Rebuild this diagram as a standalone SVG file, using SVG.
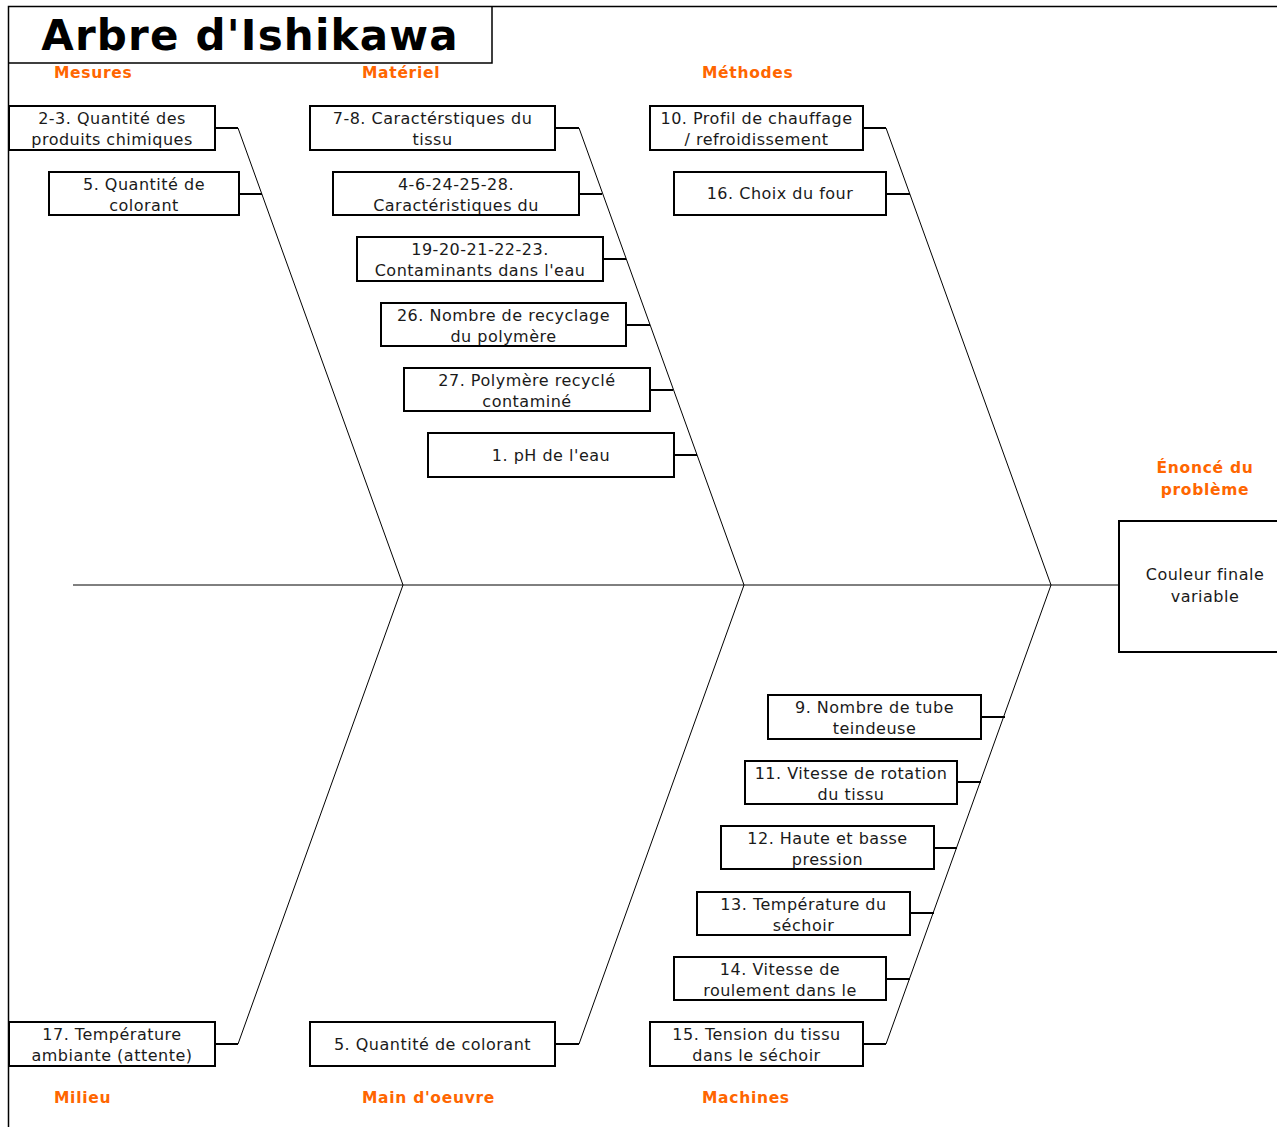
<svg xmlns="http://www.w3.org/2000/svg" width="1277" height="1127" viewBox="0 0 1277 1127">
<style>
.bg{fill:#fff}
.box{fill:#fff;stroke:#000;stroke-width:2}
.frame{fill:none;stroke:#000;stroke-width:1.5}
.t{font-family:"DejaVu Sans",Verdana,sans-serif;font-size:16px;letter-spacing:0.5px;text-anchor:middle;fill:#1a1a1a}
.title{font-family:"DejaVu Sans",Verdana,sans-serif;font-size:42px;font-weight:bold;letter-spacing:1.2px;text-anchor:middle;fill:#000}
.cat{font-family:"DejaVu Sans",Verdana,sans-serif;font-size:15.5px;font-weight:bold;letter-spacing:0.7px;fill:#ff6600}
.catc{text-anchor:middle}
.bone{fill:none;stroke:#000;stroke-width:1}
.stub{fill:none;stroke:#000;stroke-width:2}
</style>
<rect class="bg" x="0" y="0" width="1277" height="1127"/>
<g id="frame">
<path class="frame" d="M8.5,1127 V6.5 H1277 M8.5,63 H492 V6.5"/>
<text class="title" x="250" y="50">Arbre d'Ishikawa</text>
</g>
<g id="categories">
<text class="cat" x="54" y="78">Mesures</text>
<text class="cat" x="362" y="78">Matériel</text>
<text class="cat" x="702" y="78">Méthodes</text>
<text class="cat" x="54" y="1103">Milieu</text>
<text class="cat" x="362" y="1103">Main d'oeuvre</text>
<text class="cat" x="702" y="1103">Machines</text>
<text class="cat catc" x="1205" y="473">Énoncé du</text>
<text class="cat catc" x="1205" y="495">problème</text>
</g>
<g id="connectors">
<path class="bone" d="M73,585 H1119"/>
<path class="bone" d="M238,128 L403,585 L238,1044"/>
<path class="bone" d="M579,128 L744,585 L579,1044"/>
<path class="bone" d="M886,128 L1051,585 L886,1044"/>
<path class="stub" d="M215,128 H238 M239,194 H262 M555,128 H579 M579,194 H602 M603,259 H626 M626,325 H650 M650,390 H673 M674,455 H697 M863,128 H886 M886,194 H910 M981,717 H1005 M957,782 H981 M934,848 H957 M910,913 H934 M886,979 H910 M863,1044 H886 M215,1044 H238 M555,1044 H579"/>
</g>
<g id="m1"><rect class="box" x="9" y="106" width="206" height="44"/><text class="t" x="112" y="124">2-3. Quantité des</text><text class="t" x="112" y="145">produits chimiques</text></g>
<g id="m2"><rect class="box" x="49" y="172" width="190" height="43"/><text class="t" x="144" y="190">5. Quantité de</text><text class="t" x="144" y="211">colorant</text></g>
<g id="a1"><rect class="box" x="310" y="106" width="245" height="44"/><text class="t" x="432.5" y="124">7-8. Caractérstiques du</text><text class="t" x="432.5" y="145">tissu</text></g>
<g id="a2"><rect class="box" x="333" y="172" width="246" height="43"/><text class="t" x="456" y="190">4-6-24-25-28.</text><text class="t" x="456" y="211">Caractéristiques du</text></g>
<g id="a3"><rect class="box" x="357" y="237" width="246" height="44"/><text class="t" x="480" y="255">19-20-21-22-23.</text><text class="t" x="480" y="276">Contaminants dans l'eau</text></g>
<g id="a4"><rect class="box" x="381" y="303" width="245" height="43"/><text class="t" x="503.5" y="321">26. Nombre de recyclage</text><text class="t" x="503.5" y="342">du polymère</text></g>
<g id="a5"><rect class="box" x="404" y="368" width="246" height="43"/><text class="t" x="527" y="386">27. Polymère recyclé</text><text class="t" x="527" y="407">contaminé</text></g>
<g id="a6"><rect class="box" x="428" y="433" width="246" height="44"/><text class="t" x="551" y="461">1. pH de l'eau</text></g>
<g id="t1"><rect class="box" x="650" y="106" width="213" height="44"/><text class="t" x="756.5" y="124">10. Profil de chauffage</text><text class="t" x="756.5" y="145">/ refroidissement</text></g>
<g id="t2"><rect class="box" x="674" y="172" width="212" height="43"/><text class="t" x="780" y="199">16. Choix du four</text></g>
<g id="problem"><rect class="box" x="1119" y="521" width="170" height="131"/><text class="t" x="1205" y="580">Couleur finale</text><text class="t" x="1205" y="602">variable</text></g>
<g id="c1"><rect class="box" x="768" y="695" width="213" height="44"/><text class="t" x="874.5" y="713">9. Nombre de tube</text><text class="t" x="874.5" y="734">teindeuse</text></g>
<g id="c2"><rect class="box" x="745" y="761" width="212" height="43"/><text class="t" x="851" y="779">11. Vitesse de rotation</text><text class="t" x="851" y="800">du tissu</text></g>
<g id="c3"><rect class="box" x="721" y="826" width="213" height="43"/><text class="t" x="827.5" y="844">12. Haute et basse</text><text class="t" x="827.5" y="865">pression</text></g>
<g id="c4"><rect class="box" x="697" y="892" width="213" height="43"/><text class="t" x="803.5" y="910">13. Température du</text><text class="t" x="803.5" y="931">séchoir</text></g>
<g id="c5"><rect class="box" x="674" y="957" width="212" height="43"/><text class="t" x="780" y="975">14. Vitesse de</text><text class="t" x="780" y="996">roulement dans le</text></g>
<g id="c6"><rect class="box" x="650" y="1022" width="213" height="44"/><text class="t" x="756.5" y="1040">15. Tension du tissu</text><text class="t" x="756.5" y="1061">dans le séchoir</text></g>
<g id="e1"><rect class="box" x="9" y="1022" width="206" height="44"/><text class="t" x="112" y="1040">17. Température</text><text class="t" x="112" y="1061">ambiante (attente)</text></g>
<g id="o1"><rect class="box" x="310" y="1022" width="245" height="44"/><text class="t" x="432.5" y="1050">5. Quantité de colorant</text></g>
</svg>
